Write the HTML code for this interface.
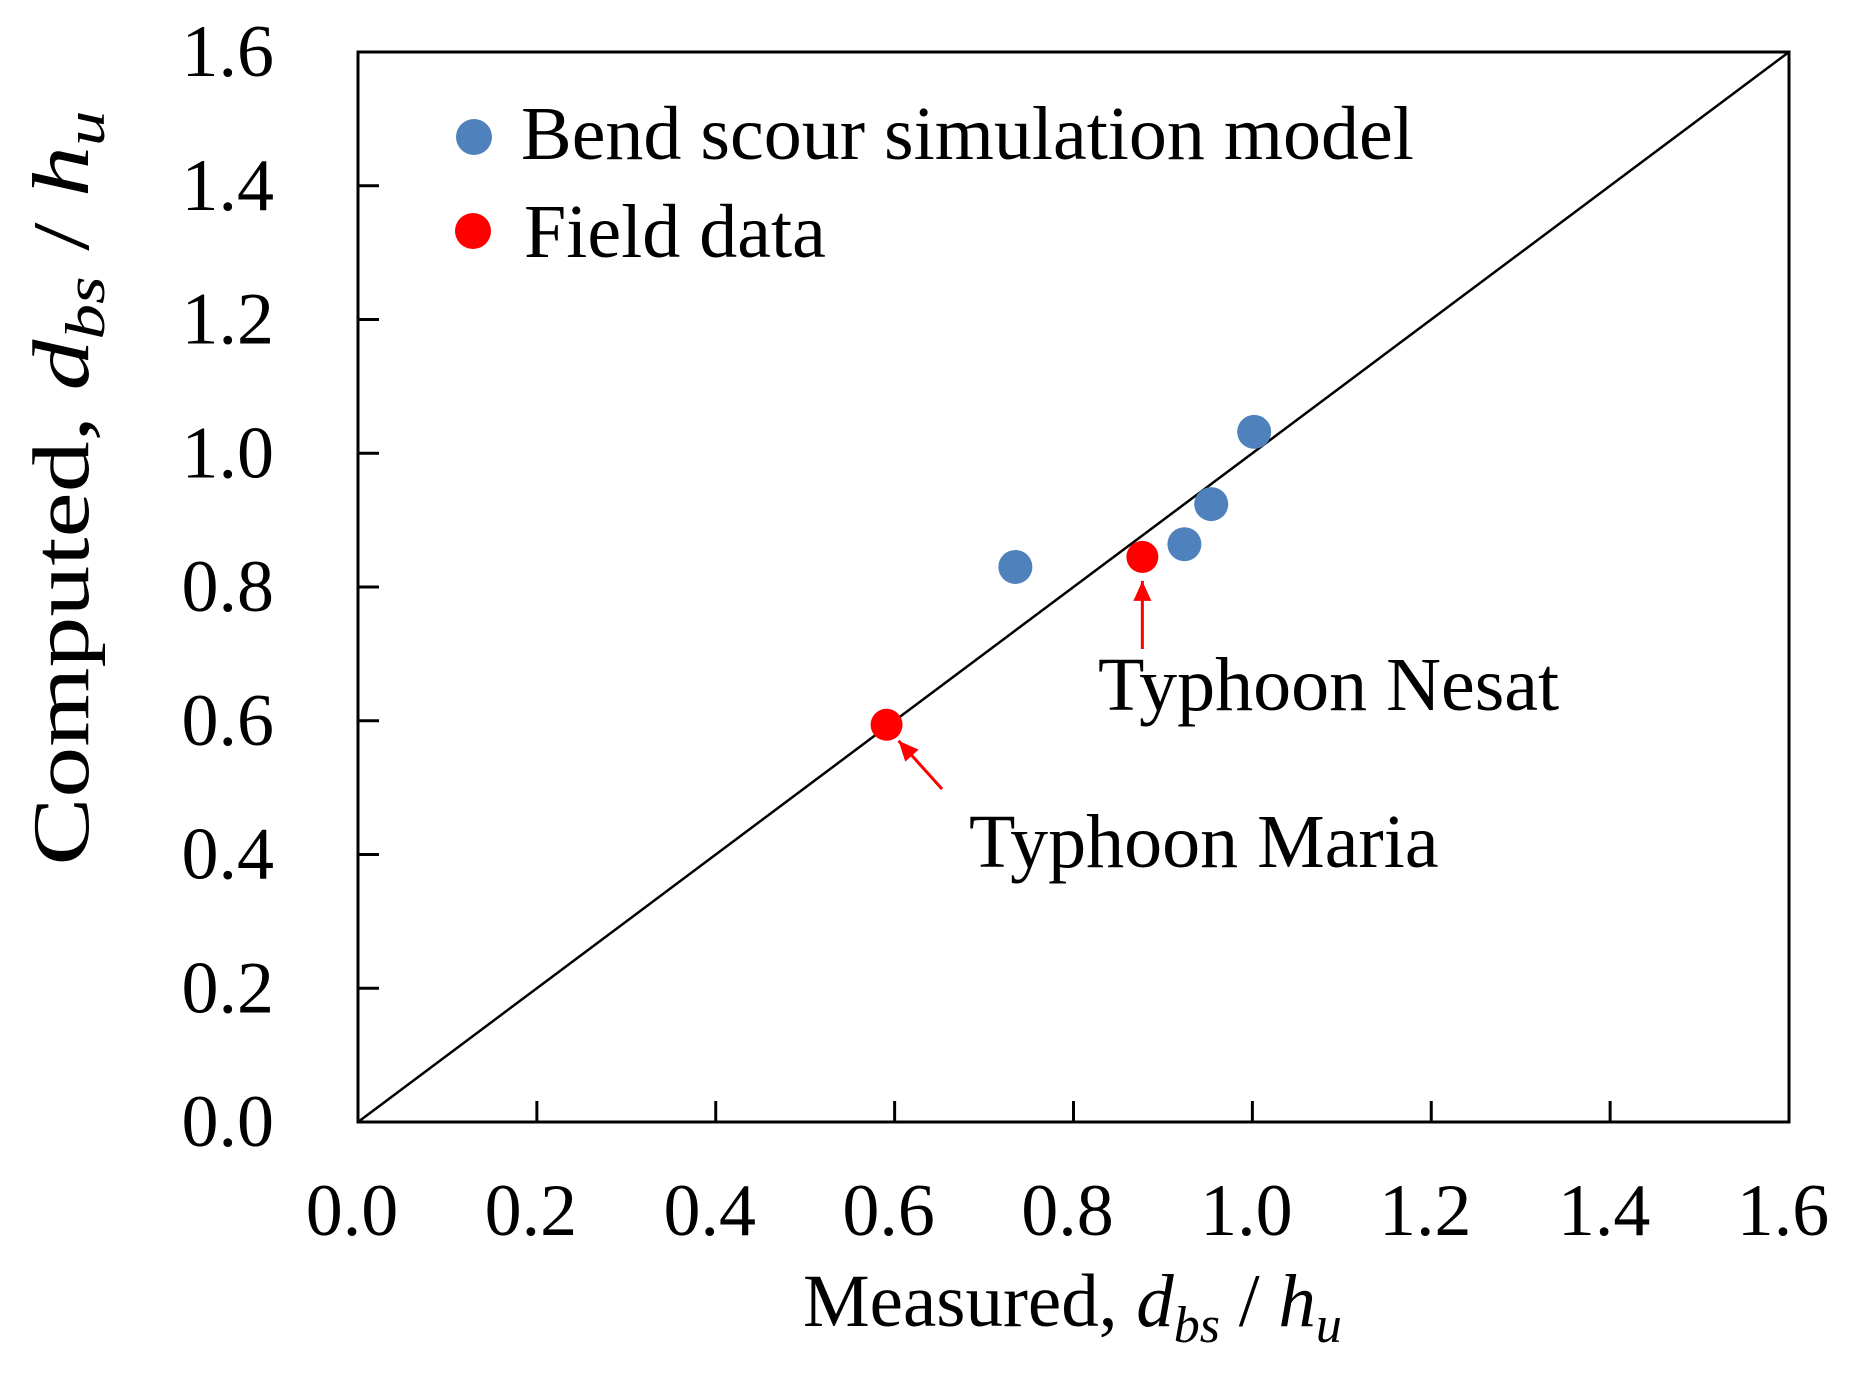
<!DOCTYPE html>
<html><head><meta charset="utf-8"><style>
html,body{margin:0;padding:0;background:#fff;}
svg{display:block;font-family:"Liberation Serif",serif;}
</style></head><body>
<svg id="chart" width="1857" height="1373" viewBox="0 0 1857 1373" xmlns="http://www.w3.org/2000/svg">
<g id="plot"></g>
</svg>
<script>
const xTicks = [0.0, 0.2, 0.4, 0.6, 0.8, 1.0, 1.2, 1.4, 1.6];
const yTicks = [0.0, 0.2, 0.4, 0.6, 0.8, 1.0, 1.2, 1.4, 1.6];
const tickLabels = ["0.0","0.2","0.4","0.6","0.8","1.0","1.2","1.4","1.6"];
const modelX = [0.735, 0.924, 0.954, 1.002];
const modelY = [0.830, 0.864, 0.924, 1.032];
const fieldX = [0.591, 0.877];
const fieldY = [0.594, 0.845];
const fieldNames = ["Typhoon Maria", "Typhoon Nesat"];

const L=358, R=1789, T=52, B=1122;
const sx = v => L + v/1.6*(R-L);
const sy = v => B - v/1.6*(B-T);
const NS="http://www.w3.org/2000/svg";
const g=document.getElementById('plot');
function mk(tag, attrs, parent){const e=document.createElementNS(NS,tag);for(const k in attrs)e.setAttribute(k,attrs[k]);(parent||g).appendChild(e);return e;}

const frame=mk('rect',{x:L,y:T,width:R-L,height:B-T,fill:'none',stroke:'#000','stroke-width':3});



const diag=mk('line',{x1:sx(0),y1:sy(0),x2:sx(1.6),y2:sy(1.6),stroke:'#000','stroke-width':2.5});



xTicks.forEach((v,i)=>{
  if(i>0&&i<xTicks.length-1){const t=mk('line',{x1:sx(v),y1:B,x2:sx(v),y2:B-21,stroke:'#000','stroke-width':3});
  
  }
  const lb=mk('text',{x:sx(v)-6,y:1235,'text-anchor':'middle','font-size':74});
  lb.textContent=tickLabels[i];
  
  
});
yTicks.forEach((v,i)=>{
  if(i>0&&i<yTicks.length-1){const t=mk('line',{x1:L,y1:sy(v),x2:L+21,y2:sy(v),stroke:'#000','stroke-width':3});
  
  }
  const lb=mk('text',{x:274,y:sy(v)+24,'text-anchor':'end','font-size':74});
  lb.textContent=tickLabels[i];
  
  
});

modelX.forEach((x,i)=>{
  const c=mk('circle',{cx:sx(x),cy:sy(modelY[i]),r:17,fill:'#4f81bd'});
  
  
});
fieldX.forEach((x,i)=>{
  const c=mk('circle',{cx:sx(x),cy:sy(fieldY[i]),r:16,fill:'#ff0000'});
  
  
});

function arrow(x1,y1,x2,y2,name){
  const a=mk('line',{x1:x1,y1:y1,x2:x2,y2:y2,stroke:'#ff0000','stroke-width':3});
  
  
  const ang=Math.atan2(y2-y1,x2-x1), Lh=20, W=9;
  const bx=x2-Lh*Math.cos(ang), by=y2-Lh*Math.sin(ang);
  const px=-Math.sin(ang)*W, py=Math.cos(ang)*W;
  const h=mk('polygon',{points:`${x2},${y2} ${bx+px},${by+py} ${bx-px},${by-py}`,fill:'#ff0000'});
  
  
}
arrow(sx(fieldX[1]), 649, sx(fieldX[1]), sy(fieldY[1])+24, 'nesat-arrow');
const tn=mk('text',{x:1098,y:710,'font-size':76});
tn.textContent=fieldNames[1];


arrow(942, 789, sx(fieldX[0])+12, sy(fieldY[0])+16, 'maria-arrow');
const tm=mk('text',{x:969,y:867,'font-size':76});
tm.textContent=fieldNames[0];



const ld1=mk('circle',{cx:474,cy:137,r:18,fill:'#4f81bd'});


const lt1=mk('text',{x:521,y:159,'font-size':76});
lt1.textContent='Bend scour simulation model';


const ld2=mk('circle',{cx:473,cy:231,r:18,fill:'#ff0000'});


const lt2=mk('text',{x:524,y:257,'font-size':76});
lt2.textContent='Field data';



const xt=mk('text',{x:803,y:1326,'font-size':75});
xt.innerHTML='Measured, <tspan font-style="italic">d</tspan><tspan font-style="italic" font-size="52" dy="16">bs</tspan><tspan dy="-16"> / </tspan><tspan font-style="italic">h</tspan><tspan font-style="italic" font-size="52" dy="16">u</tspan>';


const yt=mk('text',{x:0,y:0,'font-size':80,'text-anchor':'middle',textLength:755,lengthAdjust:'spacingAndGlyphs',transform:'translate(88,488) rotate(-90)'});
yt.innerHTML='Computed, <tspan font-style="italic">d</tspan><tspan font-style="italic" font-size="56" dy="16">bs</tspan><tspan dy="-16"> / </tspan><tspan font-style="italic">h</tspan><tspan font-style="italic" font-size="56" dy="16">u</tspan>';


</script>
</body></html>
